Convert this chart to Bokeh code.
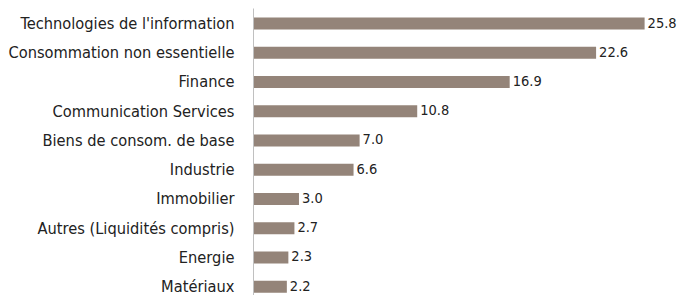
from bokeh.plotting import figure
from bokeh.models import Range1d, FixedTicker, ColumnDataSource, LabelSet
from bokeh.core.properties import value
from bokeh.embed import file_html
from bokeh.resources import INLINE

categories = ["Technologies de l'information", "Consommation non essentielle", "Finance",
              "Communication Services", "Biens de consom. de base", "Industrie",
              "Immobilier", "Autres (Liquidités compris)", "Energie", "Matériaux"]
values = [25.8, 22.6, 16.9, 10.8, 7.0, 6.6, 3.0, 2.7, 2.3, 2.2]
value_labels = ["%.1f" % v for v in values]

pos = list(range(len(categories)))
src = ColumnDataSource(dict(y=pos, v=values, lab=value_labels))

FONT = "DejaVu Sans Condensed"

p = figure(width=682, height=295, output_backend="svg", toolbar_location=None,
           x_range=Range1d(0, 28.3), y_range=Range1d(9.3, -0.513),
           min_border_left=253, min_border_right=0, min_border_top=8, min_border_bottom=0)
p.hbar(y="y", right="v", left=0, height=0.41, source=src, color="#948479", line_color=None)
p.add_layout(LabelSet(x="v", y="y", text="lab", source=src, x_offset=3, y_offset=1,
                      text_baseline="middle", text_font=value(FONT), text_font_size="14.5px",
                      text_color="#222222"))

p.xaxis.visible = False
p.xgrid.visible = False
p.ygrid.visible = False
p.outline_line_color = None
p.yaxis.ticker = FixedTicker(ticks=pos)
p.yaxis.major_label_overrides = {i: c for i, c in zip(pos, categories)}
p.yaxis.major_tick_line_color = None
p.yaxis.minor_tick_line_color = None
p.yaxis.axis_line_color = "#c0c0c0"
p.yaxis.major_label_standoff = 13
p.yaxis.major_label_text_font = FONT
p.yaxis.major_label_text_font_size = "16.3px"
p.yaxis.major_label_text_color = "#222222"

open("out.html", "w").write(file_html(p, INLINE))
